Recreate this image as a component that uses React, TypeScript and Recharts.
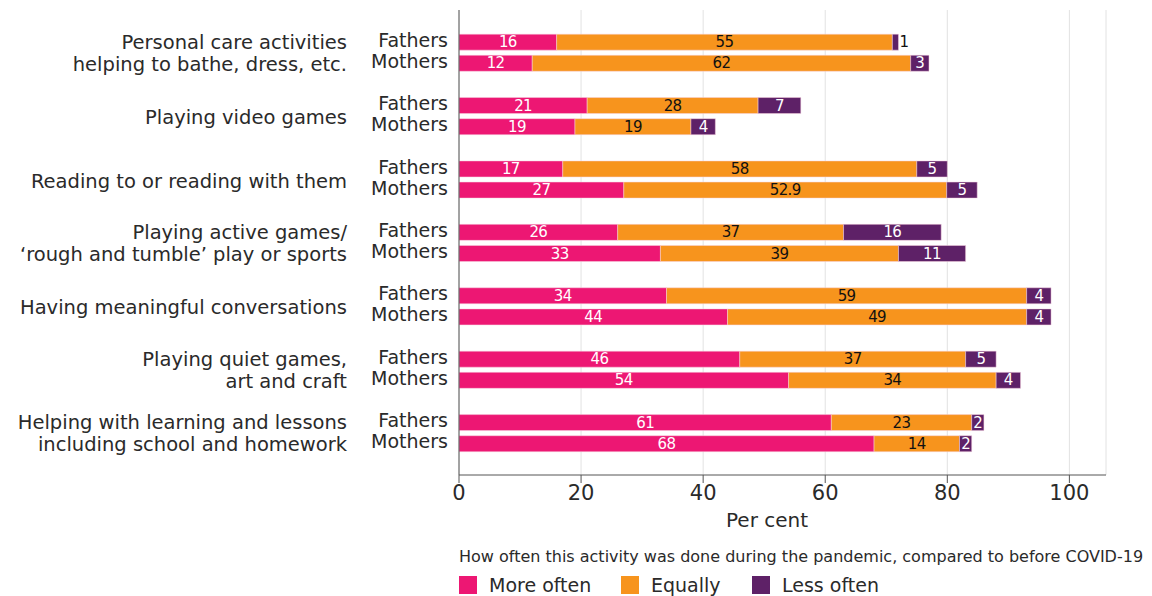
import { BarChart, Bar, XAxis, YAxis, CartesianGrid, LabelList } from 'recharts';

const categories = [
  ['Personal care activities', 'helping to bathe, dress, etc.'],
  ['Playing video games'],
  ['Reading to or reading with them'],
  ['Playing active games/', '\u2018rough and tumble\u2019 play or sports'],
  ['Having meaningful conversations'],
  ['Playing quiet games,', 'art and craft'],
  ['Helping with learning and lessons', 'including school and homework'],
];

const fathersMore = [16, 21, 17, 26, 34, 46, 61];
const fathersEqual = [55, 28, 58, 37, 59, 37, 23];
const fathersLess = [1, 7, 5, 16, 4, 5, 2];
const mothersMore = [12, 19, 27, 33, 44, 54, 68];
const mothersEqual = [62, 19, 52.9, 39, 49, 34, 14];
const mothersLess = [3, 4, 5, 11, 4, 4, 2];

const xTicks = [0, 20, 40, 60, 80, 100];

const PINK = '#ED1773';
const ORANGE = '#F7941D';
const PURPLE = '#5E2167';
const FONT = '"DejaVu Sans", Verdana, sans-serif';
const TEXT = '#2a2a2a';

type Row = { key: string; who: string; group: number; more?: number; equal?: number; less?: number };

// blank row at top and after each pair to space the groups
const rows: Row[] = [{ key: 'g', who: '', group: -1 }];
categories.forEach((_, i) => {
  rows.push({ key: `f${i}`, who: 'Fathers', group: i, more: fathersMore[i], equal: fathersEqual[i], less: fathersLess[i] });
  rows.push({ key: `m${i}`, who: 'Mothers', group: i, more: mothersMore[i], equal: mothersEqual[i], less: mothersLess[i] });
  rows.push({ key: `g${i}`, who: '', group: -1 });
});

const YTick = (props: any) => {
  const { x, y, index } = props;
  const row = rows[index];
  if (!row || !row.who) return null;
  const lines = row.who === 'Fathers' ? categories[row.group] : null;
  return (
    <g>
      <text x={x - 3} y={y} dy={5} textAnchor="end" fill={TEXT} fontSize={19} fontFamily={FONT}>
        {row.who}
      </text>
      {lines &&
        lines.map((l, i) => (
          <text
            key={i}
            x={x - 104}
            y={y + (lines.length === 1 ? 13 : 1 + i * 22)}
            dy={6}
            textAnchor="end"
            fill={TEXT}
            fontSize={19.5}
            fontFamily={FONT}
          >
            {l}
          </text>
        ))}
    </g>
  );
};

const segLabel = (color: string, outsideSmall: boolean) => (props: any) => {
  const { x, y, width, height, value } = props;
  if (value == null) return null;
  const outside = outsideSmall && width < 8;
  return (
    <text
      x={outside ? x + width + 1 : x + width / 2}
      y={y + height / 2}
      dy={5}
      textAnchor={outside ? 'start' : 'middle'}
      fill={outside ? '#111' : color}
      fontSize={15}
      fontFamily={FONT}
      letterSpacing={-0.6}
    >
      {value}
    </text>
  );
};

export default function App() {
  return (
    <div style={{ width: 1144, height: 588, position: 'relative', fontFamily: FONT, color: TEXT }}>
      <BarChart
        width={1144}
        height={500}
        data={rows}
        layout="vertical"
        margin={{ top: 2, right: 46, bottom: 0, left: 0 }}
        barCategoryGap={0}
      >
        <CartesianGrid horizontal={false} stroke="#e2e2e2" />
        <XAxis
          type="number"
          domain={[0, 106]}
          ticks={xTicks}
          allowDataOverflow
          axisLine={{ stroke: '#555' }}
          tickLine={{ stroke: '#555' }}
          tickSize={8}
          tick={{ fill: TEXT, fontSize: 21, fontFamily: FONT }}
          height={33}
        />
        <YAxis
          type="category"
          dataKey="key"
          width={451}
          axisLine={{ stroke: '#555' }}
          tickLine={false}
          tick={<YTick />}
          interval={0}
        />
        <Bar dataKey="more" stackId="s" fill={PINK} stroke="#f6d3e0" strokeWidth={0.5} barSize={16} isAnimationActive={false}>
          <LabelList dataKey="more" content={segLabel('#fff', false)} />
        </Bar>
        <Bar dataKey="equal" stackId="s" fill={ORANGE} stroke="#f6d3e0" strokeWidth={0.5} barSize={16} isAnimationActive={false}>
          <LabelList dataKey="equal" content={segLabel('#111', false)} />
        </Bar>
        <Bar dataKey="less" stackId="s" fill={PURPLE} stroke="#f6d3e0" strokeWidth={0.5} barSize={16} isAnimationActive={false}>
          <LabelList dataKey="less" content={segLabel('#fff', true)} />
        </Bar>
      </BarChart>
      <div style={{ position: 'absolute', left: 718, top: 500, fontSize: 20, lineHeight: '24px', whiteSpace: 'nowrap' }}>Per cent</div>
      <div style={{ position: 'absolute', left: 451, top: 539, fontSize: 16, lineHeight: '20px', whiteSpace: 'nowrap' }}>
        How often this activity was done during the pandemic, compared to before COVID-19
      </div>
      <div style={{ position: 'absolute', left: 451, top: 567, display: 'flex', alignItems: 'center', fontSize: 19, lineHeight: '20px' }}>
        {[
          ['More often', PINK, 162],
          ['Equally', ORANGE, 131],
          ['Less often', PURPLE, 130],
        ].map(([label, color, w]) => (
          <div key={label as string} style={{ display: 'flex', alignItems: 'center', width: w as number }}>
            <span style={{ display: 'inline-block', width: 18, height: 18, background: color as string, marginRight: 12 }} />
            <span>{label}</span>
          </div>
        ))}
      </div>
    </div>
  );
}
